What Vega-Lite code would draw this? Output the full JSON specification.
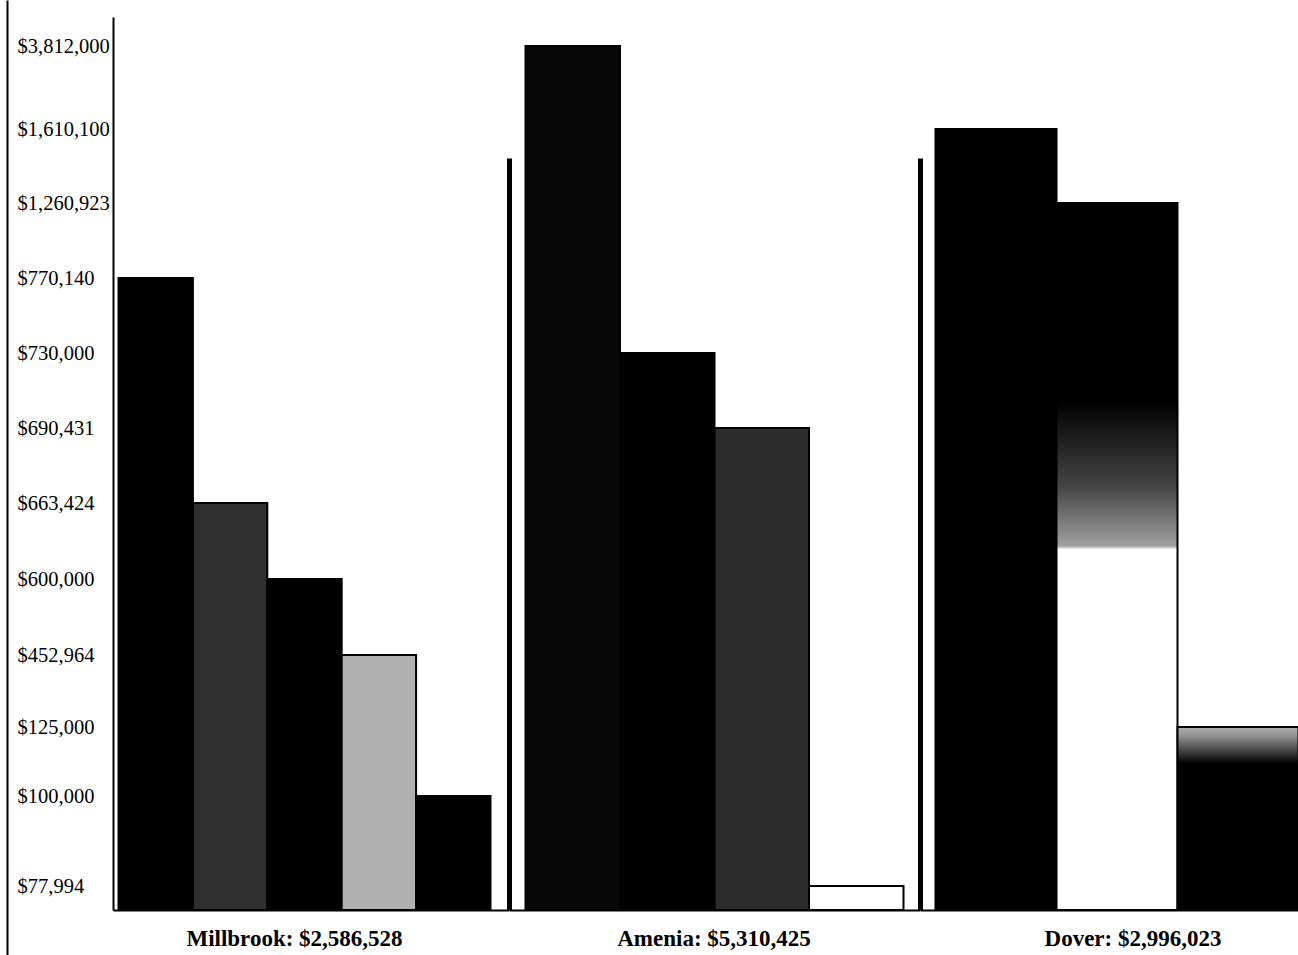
{
  "$schema": "https://vega.github.io/schema/vega-lite/v6.json",
  "padding": {"left": 7, "top": 0, "right": 0, "bottom": 0},
  "background": "white",
  "config": {"view": {"stroke": null}, "font": "Liberation Serif", "axis": {"grid": false}},
  "data": {
    "values": [
      {"town": "Millbrook", "item": 1, "value": 770140},
      {"town": "Millbrook", "item": 2, "value": 663424},
      {"town": "Millbrook", "item": 3, "value": 600000},
      {"town": "Millbrook", "item": 4, "value": 452964},
      {"town": "Millbrook", "item": 5, "value": 100000},
      {"town": "Amenia", "item": 1, "value": 3812000},
      {"town": "Amenia", "item": 2, "value": 730000},
      {"town": "Amenia", "item": 3, "value": 690431},
      {"town": "Amenia", "item": 4, "value": 77994},
      {"town": "Dover", "item": 1, "value": 1610100},
      {"town": "Dover", "item": 2, "value": 1260923},
      {"town": "Dover", "item": 3, "value": 125000}
    ]
  },
  "spacing": 0,
  "resolve": {"scale": {"x": "independent", "y": "independent", "fill": "independent"}},
  "hconcat": [
    {
      "width": 106,
      "height": 910,
      "mark": {"type": "point", "opacity": 0},
      "encoding": {
        "y": {
          "field": "value",
          "type": "quantitative",
          "scale": {
            "domain": [-100000, 0, 77994, 100000, 125000, 452964, 600000, 663424, 690431, 730000, 770140, 1260923, 1610100, 3812000, 4300000],
            "range": [955, 910, 886, 796, 727, 655, 579, 503, 428, 353, 278, 203, 129, 46, 0],
            "nice": false,
            "zero": false
          },
          "axis": {
            "values": [77994, 100000, 125000, 452964, 600000, 663424, 690431, 730000, 770140, 1260923, 1610100, 3812000],
            "format": "$,d",
            "ticks": false,
            "tickSize": 0,
            "labelAlign": "left",
            "labelBaseline": "middle",
            "labelPadding": -10,
            "labelFont": "Liberation Serif",
            "labelFontSize": 20.5,
            "labelColor": "black",
            "labelOverlap": false,
            "labelFlush": false,
            "domainColor": "black",
            "domainWidth": 2,
            "title": null,
            "grid": false
          }
        }
      }
    },
    {
      "width": 395.5,
      "height": 910,
      "transform": [{"filter": "datum.town === 'Millbrook'"}],
      "mark": {"type": "bar", "stroke": "black", "strokeWidth": 2},
      "encoding": {
        "x": {
          "field": "item",
          "type": "ordinal",
          "scale": {"paddingInner": 0, "paddingOuter": 0.158, "align": 0.234},
          "axis": {"labels": false, "ticks": false, "domainColor": "black", "domainWidth": 2, "title": "Millbrook: $2,586,528", "titleFont": "Liberation Serif", "titleFontSize": 23, "titleFontWeight": "bold", "titleColor": "black", "titlePadding": 17, "titleX": 181}
        },
        "y": {
          "field": "value",
          "type": "quantitative",
          "scale": {
            "domain": [0, 77994, 100000, 125000, 452964, 600000, 663424, 690431, 730000, 770140, 1260923, 1610100, 3812000, 4100000],
            "range": [910, 886, 796, 727, 655, 579, 503, 428, 353, 278, 203, 129, 46, 17],
            "nice": false
          },
          "axis": {"labels": false, "ticks": false, "domainColor": "black", "domainWidth": 2, "title": null, "grid": false}
        },
        "fill": {
          "field": "item",
          "type": "ordinal",
          "scale": {"range": ["#000000", "#303030", "#000000", "#b0b0b0", "#000000"]},
          "legend": null
        }
      }
    },
    {
      "width": 410.5,
      "height": 910,
      "transform": [{"filter": "datum.town === 'Amenia'"}],
      "layer": [
        {
          "mark": {"type": "bar", "stroke": "black", "strokeWidth": 2},
          "encoding": {
            "x": {
              "field": "item",
              "type": "ordinal",
              "scale": {"paddingInner": 0, "paddingOuter": 0.172, "align": 0.508},
              "axis": {"labels": false, "ticks": false, "domainColor": "black", "domainWidth": 2, "title": "Amenia: $5,310,425", "titleFont": "Liberation Serif", "titleFontSize": 23, "titleFontWeight": "bold", "titleColor": "black", "titlePadding": 17, "titleX": 204.5}
            },
            "y": {
              "field": "value",
              "type": "quantitative",
              "scale": {
                "domain": [0, 77994, 100000, 125000, 452964, 600000, 663424, 690431, 730000, 770140, 1260923, 1610100, 3812000, 4100000],
                "range": [910, 886, 796, 727, 655, 579, 503, 428, 353, 278, 203, 129, 46, 17],
                "nice": false
              },
              "axis": null
            },
            "fill": {
              "field": "item",
              "type": "ordinal",
              "scale": {"range": ["#080808", "#000000", "#2c2c2c", "#ffffff"]},
              "legend": null
            }
          }
        },
        {
          "mark": {"type": "point", "opacity": 0},
          "encoding": {
            "y": {
              "datum": 0,
              "type": "quantitative",
              "scale": {"domain": [0, 1473300], "range": [910, 158], "nice": false},
              "axis": {"labels": false, "ticks": false, "domainColor": "black", "domainWidth": 5, "title": null, "grid": false}
            }
          }
        }
      ],
      "resolve": {"scale": {"y": "independent"}, "axis": {"y": "independent"}}
    },
    {
      "width": 378.5,
      "height": 910,
      "transform": [{"filter": "datum.town === 'Dover'"}],
      "layer": [
        {
          "mark": {"type": "bar", "stroke": "black", "strokeWidth": 2},
          "encoding": {
            "x": {
              "field": "item",
              "type": "ordinal",
              "scale": {"paddingInner": 0, "paddingOuter": 0.064, "align": 1},
              "axis": {"labels": false, "ticks": false, "domainColor": "black", "domainWidth": 2, "title": "Dover: $2,996,023", "titleFont": "Liberation Serif", "titleFontSize": 23, "titleFontWeight": "bold", "titleColor": "black", "titlePadding": 17, "titleX": 212.5}
            },
            "y": {
              "field": "value",
              "type": "quantitative",
              "scale": {
                "domain": [0, 77994, 100000, 125000, 452964, 600000, 663424, 690431, 730000, 770140, 1260923, 1610100, 3812000, 4100000],
                "range": [910, 886, 796, 727, 655, 579, 503, 428, 353, 278, 203, 129, 46, 17],
                "nice": false
              },
              "axis": null
            },
            "fill": {
              "condition": [
                {
                  "test": "datum.item === 2",
                  "value": {
                    "gradient": "linear", "x1": 0, "y1": 0, "x2": 0, "y2": 1,
                    "stops": [
                      {"offset": 0, "color": "#000000"},
                      {"offset": 0.28, "color": "#000000"},
                      {"offset": 0.4, "color": "#444444"},
                      {"offset": 0.485, "color": "#a0a0a0"},
                      {"offset": 0.49, "color": "#ffffff"},
                      {"offset": 1, "color": "#ffffff"}
                    ]
                  }
                },
                {
                  "test": "datum.item === 3",
                  "value": {
                    "gradient": "linear", "x1": 0, "y1": 0, "x2": 0, "y2": 1,
                    "stops": [
                      {"offset": 0, "color": "#b0b0b0"},
                      {"offset": 0.05, "color": "#909090"},
                      {"offset": 0.2, "color": "#000000"},
                      {"offset": 1, "color": "#000000"}
                    ]
                  }
                }
              ],
              "value": "#000000"
            }
          }
        },
        {
          "mark": {"type": "point", "opacity": 0},
          "encoding": {
            "y": {
              "datum": 0,
              "type": "quantitative",
              "scale": {"domain": [0, 1473300], "range": [910, 158], "nice": false},
              "axis": {"labels": false, "ticks": false, "domainColor": "black", "domainWidth": 5, "title": null, "grid": false}
            }
          }
        }
      ],
      "resolve": {"scale": {"y": "independent"}, "axis": {"y": "independent"}}
    }
  ]
}
